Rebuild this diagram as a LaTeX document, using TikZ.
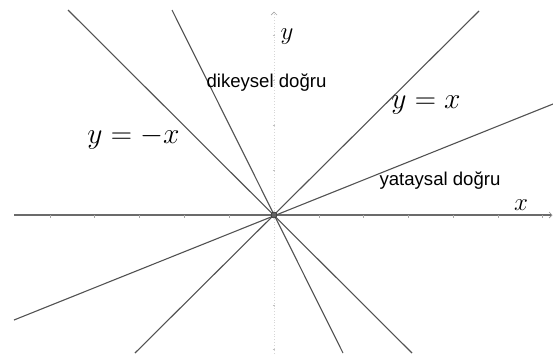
\RequirePackage{fix-cm}
\documentclass[tikz,border=0pt]{standalone}
\usepackage{fontspec}
\newfontfamily\arialf{Liberation Sans}
\begin{document}
\begin{tikzpicture}[x=1pt,y=-1pt,
  graphline/.style={draw=black!68, line width=1.1pt},
  xaxisline/.style={draw=black!58, line width=1.4pt},
  yaxisline/.style={draw=black!16, line width=0.8pt, dotted},
  tickmark/.style={draw=black!35, line width=0.7pt},
  ytickmark/.style={draw=black!25, line width=0.7pt},
  mathlabel/.style={anchor=base, inner sep=0pt, font=\fontsize{29.5}{31}\selectfont},
  axislabel/.style={anchor=base, inner sep=0pt, font=\fontsize{25}{27}\selectfont},
  textlabel/.style={anchor=base, inner sep=0pt, font=\arialf\fontsize{18.6}{20}\selectfont}]
\useasboundingbox (0,0) rectangle (553,354);
% origin
\coordinate (O) at (274,215);
% axes
\coordinate (xl) at (14,215);
\coordinate (xr) at (551,215);
\coordinate (yb) at (274,354);
\coordinate (yt) at (274,12);
\draw[yaxisline] (yb) -- (yt);
\draw[draw=black!35, line width=0.7pt] (271,15) -- (yt) -- (277,15);
\foreach \ty in {35,80,125,170,260,305,349} \draw[ytickmark] (272.5,\ty) -- (274.5,\ty);
\draw[xaxisline] (xl) -- (xr);
\draw[draw=black!45, line width=0.7pt] (549,212) -- (552,215) -- (549,218);
\foreach \tx in {50,94,139,184,229,319,363,408,453,498,542} \draw[tickmark] (\tx,215) -- (\tx,217.5);
% lines through the origin
\coordinate (a1) at (68,10);   \coordinate (a2) at (412,353);  % y=-x
\coordinate (b1) at (172,10);  \coordinate (b2) at (343,353);  % steep
\coordinate (c1) at (479,11);  \coordinate (c2) at (135,353);  % y=x
\coordinate (d1) at (14,320);  \coordinate (d2) at (553,104);  % shallow
\draw[graphline] (a1) -- (a2);
\draw[graphline] (b1) -- (b2);
\draw[graphline] (c1) -- (c2);
\draw[graphline] (d1) -- (d2);
\node[circle, fill=black!62, draw=black!80, line width=0.6pt, minimum size=6pt, inner sep=0pt] (Odot) at (O) {};
% labels
\node[axislabel] (ylab) at (287,39) {$y$};
\node[axislabel] (xlab) at (521,210) {$x$};
\node[mathlabel] (lab1) at (133.5,143) {$y=-x$};
\node[mathlabel] (lab2) at (426,108) {$y=x$};
\node[textlabel] (lab3) at (266.5,87) {dikeysel doğru};
\node[textlabel] (lab4) at (440,185) {yataysal doğru};
\end{tikzpicture}
\end{document}
